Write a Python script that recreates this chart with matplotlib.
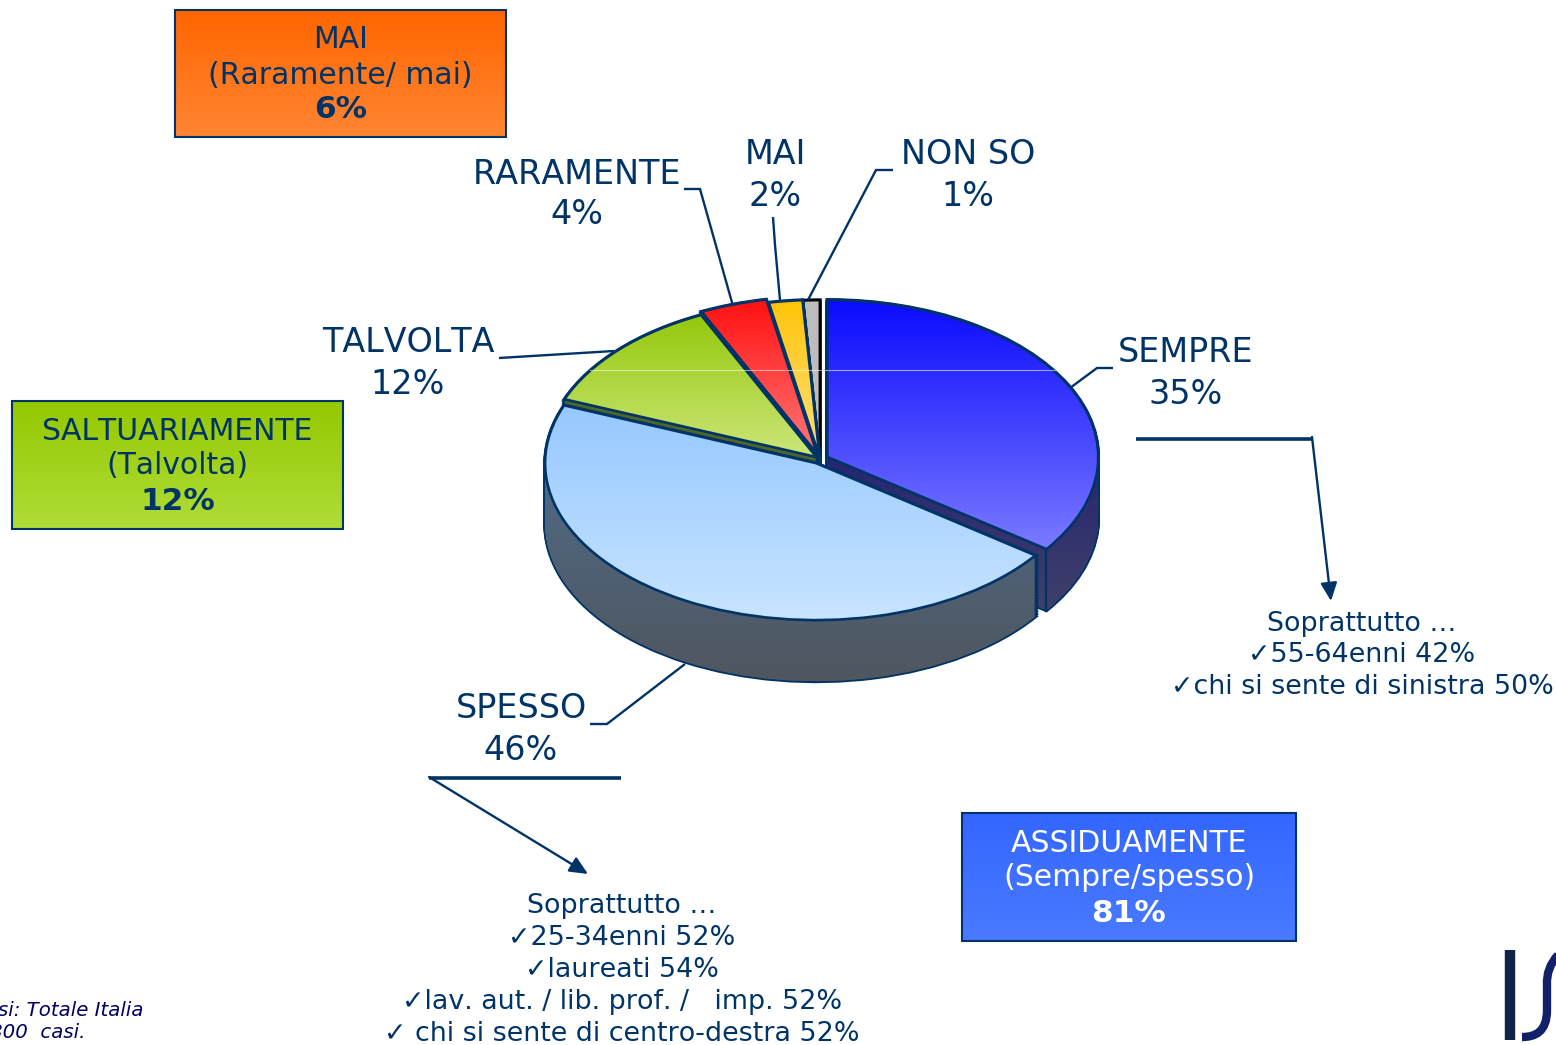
# Frequency pie with fake 3D depth, category call-outs and summary boxes
import numpy as np
import matplotlib
matplotlib.use("Agg")
import matplotlib.pyplot as plt
from matplotlib.colors import to_rgb
from matplotlib.path import Path
from matplotlib.patches import PathPatch

plt.rcParams["text.kerning_factor"] = 6

# data
categories = ["SEMPRE", "SPESSO", "TALVOLTA", "RARAMENTE", "MAI", "NON SO"]
values = [35, 46, 12, 4, 2, 1]
box_titles = ["MAI", "SALTUARIAMENTE", "ASSIDUAMENTE"]
box_subtitles = ["(Raramente/ mai)", "(Talvolta)", "(Sempre/spesso)"]
box_values = [6, 12, 81]
sempre_notes = ["Soprattutto …", "✓55-64enni 42%", "✓chi si sente di sinistra 50%"]
spesso_notes = ["Soprattutto …", "✓25-34enni 52%", "✓laureati 54%",
                "✓lav. aut. / lib. prof. /   imp. 52%", "✓ chi si sente di centro-destra 52%"]
footnotes = ["si: Totale Italia", "800  casi."]

# styles
NAVY = "#003366"
W, H = 1556, 1045
CX, CY, RX, RY = 820, 459, 271, 157
DEPTH = 62 / RY
explode = [0.03, 0.03, 0.018, 0.035, 0.014, 0.012]
top_cols = [("#0a0aff", "#7a7aff"), ("#96c8ff", "#c8e4ff"), ("#94c80a", "#cce67a"),
            ("#ff1010", "#ff7878"), ("#ffc408", "#ffe080"), ("#bdbdbd", "#bdbdbd")]
side_cols = [("#0a0a7a", "#40406a"), ("#4f6f90", "#50565f"), ("#4f6628", "#4f6628"),
             ("#7a3038", "#7a3038"), ("#806010", "#806010"), ("#555555", "#555555")]
edge_cols = [NAVY, NAVY, NAVY, NAVY, NAVY, "black"]
draw_order = [5, 4, 3, 2, 0, 1]

fig = plt.figure(figsize=(W / 100, H / 100), dpi=100, facecolor="white")
pie_ax = fig.add_axes([0, 0, 1, 1], zorder=1)
ax = fig.add_axes([0, 0, 1, 1], zorder=2)
ax.set_xlim(0, W)
ax.set_ylim(H, 0)
ax.axis("off")


def grad_fill(target, path, c1, c2, z):
    box = path.get_extents()
    cols = np.linspace(to_rgb(c1), to_rgb(c2), 256)[:, None, :]
    im = target.imshow(cols, extent=[box.x0, box.x1, box.y0, box.y1], origin="upper",
                       aspect="auto", zorder=z, interpolation="bilinear")
    im.set_clip_path(path, target.transData)


def draw_pie(center):
    wedges, _ = pie_ax.pie(values, explode=explode, startangle=90, counterclock=False,
                           center=center, colors=["none"] * len(values), radius=1)
    return wedges


# side walls: the same pie pushed down step by step, merged into one outline per slice
stacks = [[] for _ in values]
for d in np.arange(0, DEPTH + 0.001, 0.01):
    wedges = draw_pie((0, -d))
    for i, w in enumerate(wedges):
        order = draw_order.index(i)
        w.set_edgecolor(NAVY)
        w.set_linewidth(2.6)
        w.set_zorder(10 + order * 3)
        stacks[i].append(w.get_path())

tops = draw_pie((0, 0))
for i, w in enumerate(tops):
    order = draw_order.index(i)
    grad_fill(pie_ax, Path.make_compound_path(*stacks[i]), side_cols[i][0], side_cols[i][1], 10.5 + order * 3)
    grad_fill(pie_ax, w.get_path(), top_cols[i][0], top_cols[i][1], 11 + order * 3)
    w.set_edgecolor(edge_cols[i])
    w.set_linewidth(1.9)
    w.set_zorder(11.5 + order * 3)

pie_ax.set_aspect("auto")
pie_ax.set_xlim(-1.1, 1.1)
pie_ax.set_ylim(-1.55, 1.2)
pie_ax.set_position([(CX - 1.1 * RX) / W, 1 - (CY + 1.55 * RY) / H, 2.2 * RX / W, 2.75 * RY / H])
pie_ax.axis("off")

# edge between the cut face and the outer wall of SEMPRE
end = np.radians(90 - 360 * values[0] / sum(values))
mid = np.radians(90 - 180 * values[0] / sum(values))
ex = explode[0] * np.cos(mid) + np.cos(end)
ey = explode[0] * np.sin(mid) + np.sin(end)
pie_ax.plot([ex, ex], [ey, ey - DEPTH], color=NAVY, lw=1.7, zorder=10 + draw_order.index(0) * 3 + 0.7)


def line(xs, ys, lw=1.7):
    ax.plot(xs, ys, color=NAVY, lw=lw, solid_joinstyle="miter", solid_capstyle="butt", zorder=3)


# faint highlight across the top of the pie
ax.plot([590, 1057], [370, 370], color="white", lw=0.8, alpha=0.55, zorder=2)

# leader lines
line([1113, 1097, 1070], [368, 368, 388])
line([893, 876, 808], [170, 170, 300])
line([773, 775, 780], [217, 245, 300])
line([684, 700, 733], [189, 189, 306])
line([499, 614], [358, 351])
line([685, 607, 590], [664, 724, 724])

# call-out rules and arrows
line([1136, 1312], [438.5, 438.5], lw=2.6)
line([429, 621], [777.5, 777.5], lw=2.6)
for start, stop in [((1312, 437), (1331, 601)), ((429, 777), (588, 874))]:
    ax.annotate("", xy=stop, xytext=start,
                arrowprops=dict(arrowstyle="-|>,head_length=0.55,head_width=0.25", color=NAVY, lw=1.7,
                                shrinkA=0, shrinkB=0, mutation_scale=20), zorder=3)

# slice labels
label_pos = [(1186, 352, 394), (521, 708, 750), (408, 342, 384),
             (577, 174, 215), (775, 155, 197), (968, 155, 197)]
for name, val, (x, y1, y2) in zip(categories, values, label_pos):
    ax.text(x, y1, name, color=NAVY, fontsize=24, ha="center", va="center", zorder=4)
    ax.text(x, y2, f"{val}%", color=NAVY, fontsize=24, ha="center", va="center", zorder=4)

# summary boxes
box_rects = [(175, 10, 506, 137), (12, 401, 343, 529), (962, 813, 1296, 941)]
box_cols = [("#ff6600", "#ff8533"), ("#94c800", "#b0dc38"), ("#3366ff", "#4a7aff")]
box_text = [NAVY, NAVY, "white"]
box_y = [(39, 75, 110), (431, 466, 502), (843, 878, 914)]
for k in range(3):
    x0, y0, x1, y1 = box_rects[k]
    rect = Path([(x0, y0), (x1, y0), (x1, y1), (x0, y1), (x0, y0)], closed=True)
    cols = np.linspace(to_rgb(box_cols[k][0]), to_rgb(box_cols[k][1]), 128)[:, None, :]
    ax.imshow(cols, extent=[x0, x1, y1, y0], aspect="auto", zorder=3, origin="upper")
    ax.add_patch(PathPatch(rect, fc="none", ec=NAVY, lw=1.5, zorder=3.5))
    xc = (x0 + x1) / 2
    ax.text(xc, box_y[k][0], box_titles[k], color=box_text[k], fontsize=21.5, ha="center", va="center", zorder=4)
    ax.text(xc, box_y[k][1], box_subtitles[k], color=box_text[k], fontsize=21.5, ha="center", va="center", zorder=4)
    ax.text(xc, box_y[k][2], f"{box_values[k]}%", color=box_text[k], fontsize=22.5, fontweight="bold",
            ha="center", va="center", zorder=4)
ax.set_xlim(0, W)
ax.set_ylim(H, 0)

# notes under the arrows
for txt, y in zip(sempre_notes, [624, 655, 687]):
    ax.text(1362, y, txt, color=NAVY, fontsize=19.4, ha="center", va="center", zorder=4)
for txt, y in zip(spesso_notes, [906, 938, 970, 1002, 1034]):
    ax.text(622, y, txt, color=NAVY, fontsize=19.4, ha="center", va="center", zorder=4)

# footnote, cut by the page edge as in the slide
ax.text(-2, 1011, footnotes[0], color="#000066", fontsize=14.2, style="italic", ha="left", va="center")
ax.text(-10, 1033, footnotes[1], color="#000066", fontsize=14.2, style="italic", ha="left", va="center")

# logo fragment
ax.plot([1510, 1510], [950, 1040], color="#0f2448", lw=7.5, solid_capstyle="butt", zorder=3)
logo = Path([(1558, 955), (1546, 968), (1547, 985), (1547, 1010), (1547, 1032), (1535, 1037), (1522, 1037)],
            [Path.MOVETO, Path.CURVE3, Path.CURVE3, Path.LINETO, Path.CURVE4, Path.CURVE4, Path.CURVE4])
ax.add_patch(PathPatch(logo, fc="none", ec="#12206a", lw=6, zorder=3))

fig.savefig("out.png", dpi=100)
